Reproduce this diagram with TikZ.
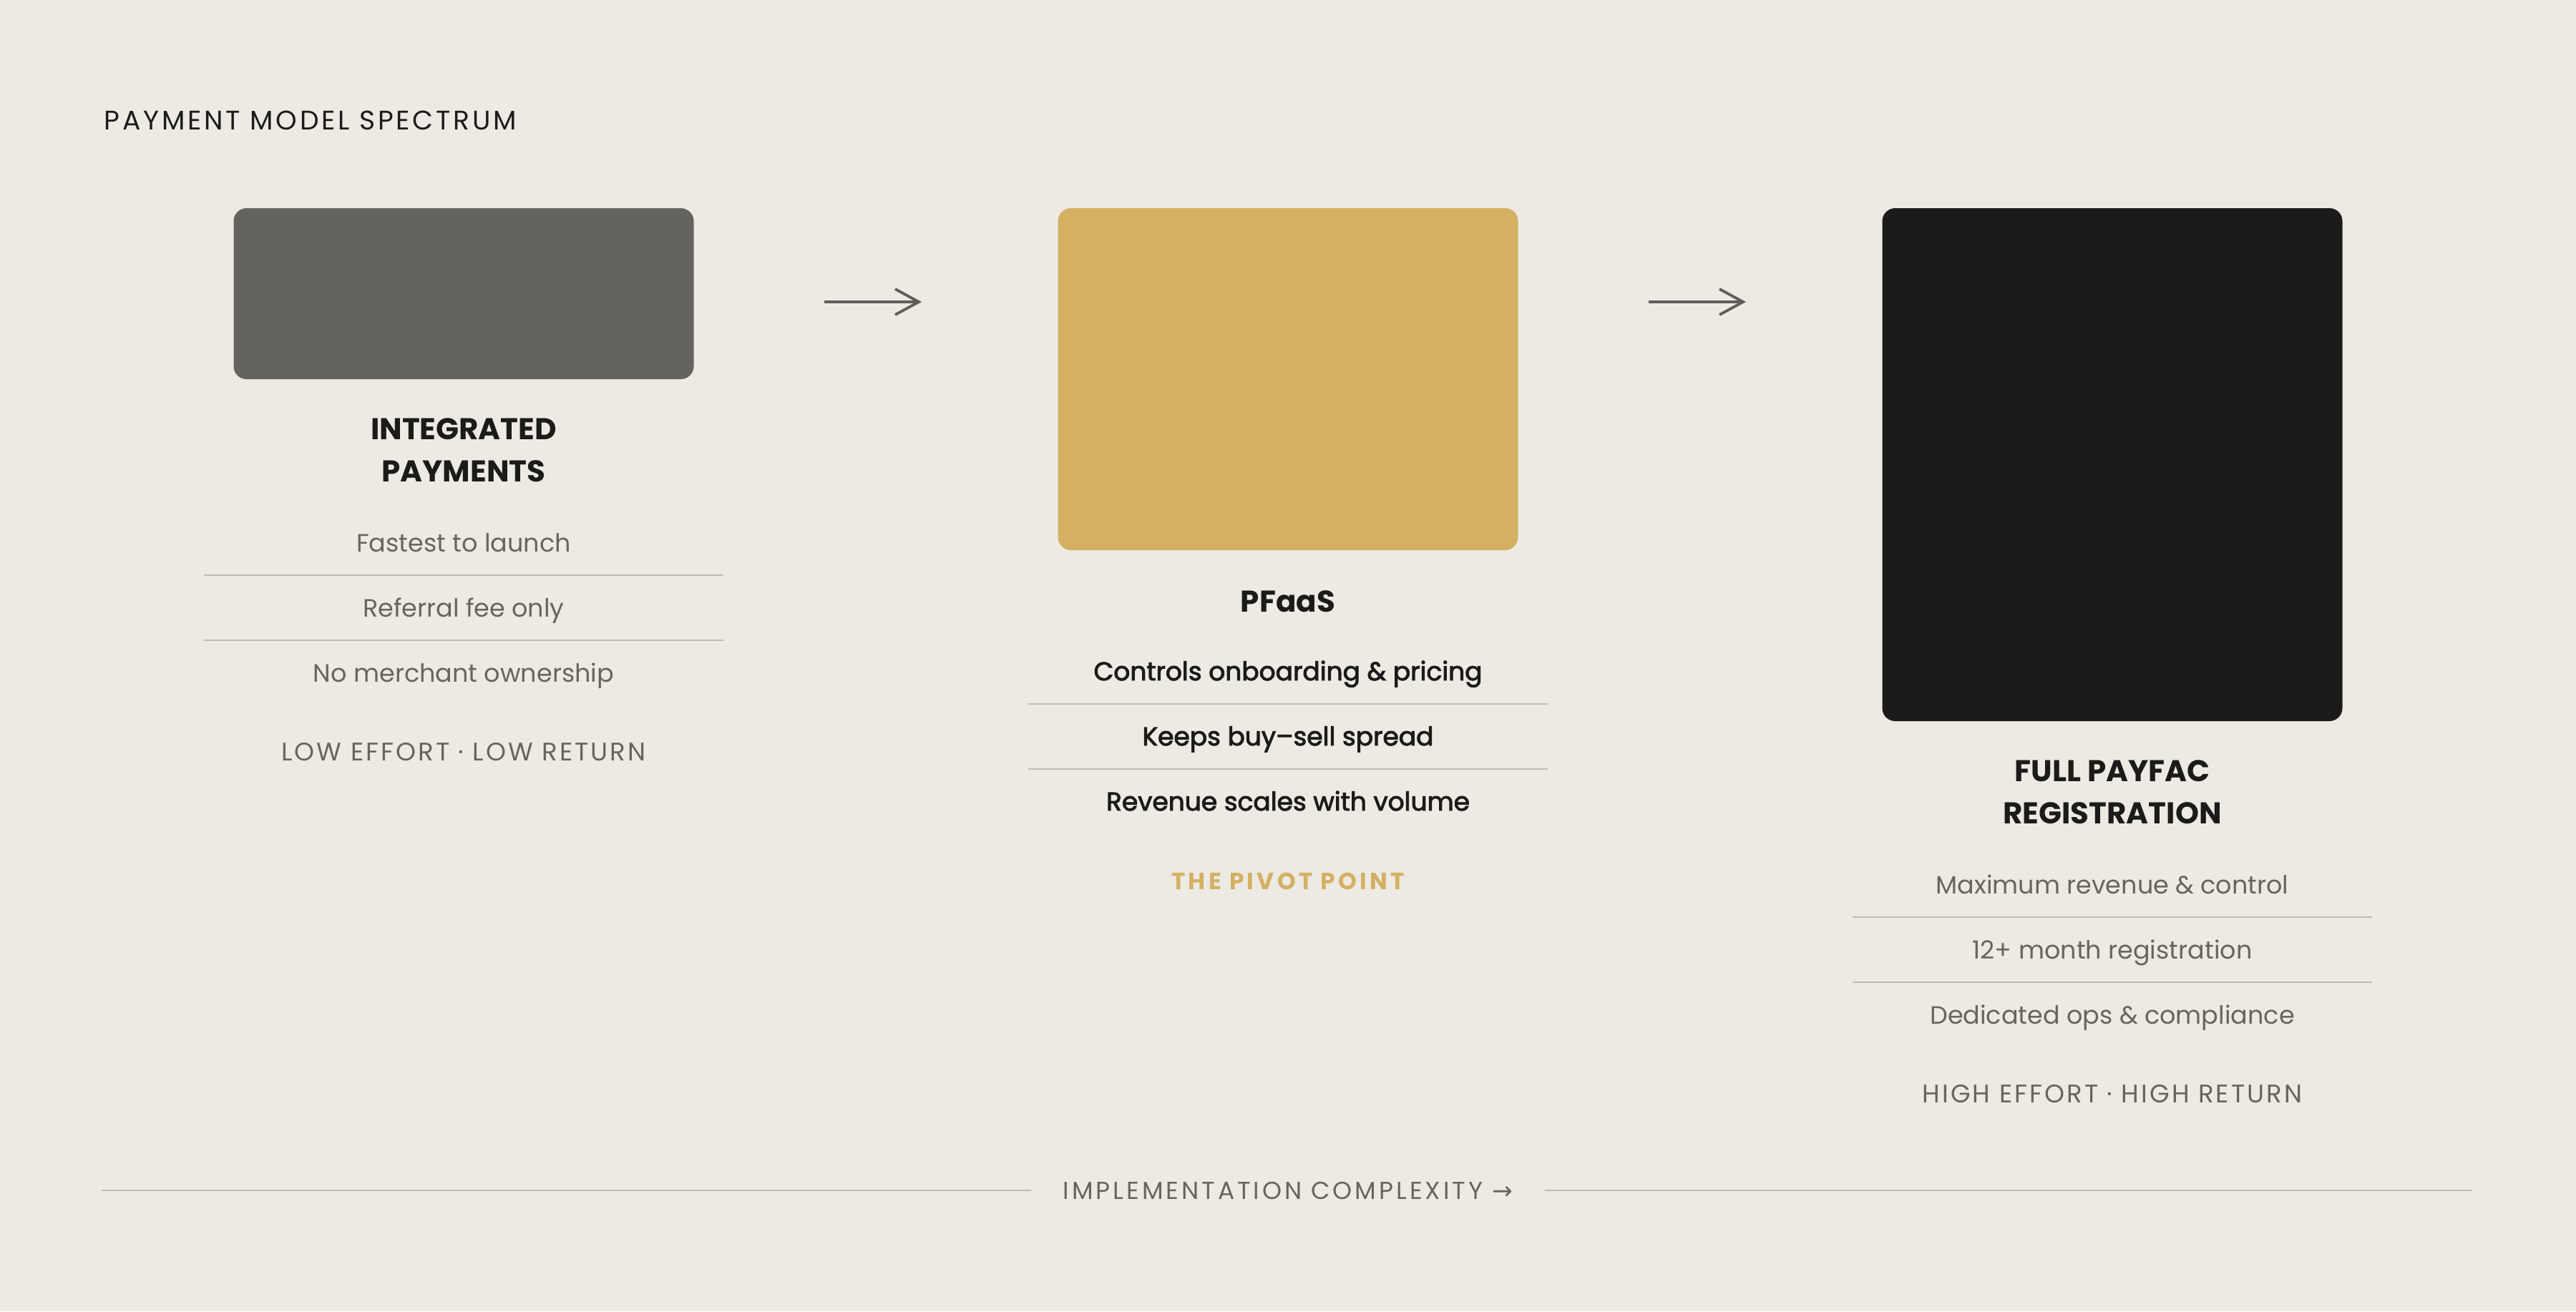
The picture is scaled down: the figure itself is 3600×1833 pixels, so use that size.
\documentclass[tikz,border=0pt]{standalone}
\usepackage{fontspec}
\setmainfont{Poppins}
\newfontfamily\spacedfont[LetterSpace=10]{Poppins}
\newfontfamily\axisfont[LetterSpace=11.5]{Poppins}
\newfontfamily\tagfont[LetterSpace=8.5]{Poppins}
\newfontfamily\pivotfont[LetterSpace=13]{Poppins}
\newfontfamily\midfont[FakeBold=2.6]{Poppins}
\newfontfamily\symfont{DejaVu Sans}
\usepackage{tikz}
\usetikzlibrary{arrows.meta}
\definecolor{paper}{HTML}{EDEAE4}
\definecolor{slate}{HTML}{64635E}
\definecolor{gold}{HTML}{D4B062}
\definecolor{ink}{HTML}{1B1B19}
\definecolor{mute}{HTML}{66655F}
\definecolor{hair}{HTML}{BDBBB6}
\definecolor{pointer}{HTML}{5F5E5A}
\tikzset{
  tile/.style={rectangle, rounded corners=4.5pt, inner sep=0pt, minimum width=160.75pt},
  heading/.style={font=\fontsize{10.5}{14.75}\selectfont\bfseries, text=ink, align=center, inner sep=0pt},
  item/.style={font=\fontsize{8.75}{11}\selectfont, text=mute, anchor=base, inner sep=0pt},
  keyitem/.style={font=\fontsize{9}{11}\midfont, text=ink, anchor=base, inner sep=0pt},
  tag/.style={font=\fontsize{8.9}{11}\tagfont, text=mute, anchor=base, inner sep=0pt},
  rule/.style={draw=hair, line width=0.55pt},
  flow/.style={draw=pointer, line width=0.95pt, -{Straight Barb[length=8.25pt, width=9pt, line width=0.95pt]}}
}

\begin{document}
\begin{tikzpicture}[x=0.25pt, y=-0.25pt]
    \useasboundingbox[fill=paper] (0,0) rectangle (3600,1833);
    % Heading
    \node[font=\fontsize{9.4}{11}\spacedfont, text=ink, anchor=base west, inner sep=0pt] (title) at (145,181) {PAYMENT MODEL SPECTRUM};

    % Tiles
    \node[tile, fill=slate, minimum height=59.75pt] (intg) at (648,410.5) {};
    \node[tile, fill=gold, minimum height=119.5pt] (pfaas) at (1800,530) {};
    \node[tile, fill=ink, minimum height=179.25pt] (payfac) at (2952,649.5) {};

    % Arrows
    \coordinate (a1s) at (1152,422);
    \coordinate (a1e) at (1288,422);
    \coordinate (a2s) at (2304,422);
    \coordinate (a2e) at (2440,422);
    \draw[flow] (a1s) -- (a1e);
    \draw[flow] (a2s) -- (a2e);

    % Names
    \node[heading] (intg-name) at (648,629.5) {INTEGRATED\\PAYMENTS};
    \node[heading] (pfaas-name) at (1800,841) {PFaaS};
    \node[heading] (payfac-name) at (2952,1107.5) {FULL PAYFAC\\REGISTRATION};

    % Rules between items
    \foreach \cx/\yb in {648/771, 1800/951, 2952/1249}{
      \draw[rule] (\cx-363,\yb+33) -- (\cx+363,\yb+33);
      \draw[rule] (\cx-363,\yb+124) -- (\cx+363,\yb+124);
    }

    % Items
    \node[item] (intg-1) at (648,771) {Fastest to launch};
    \node[item] (intg-2) at (648,862) {Referral fee only};
    \node[item] (intg-3) at (648,953) {No merchant ownership};
    \node[keyitem] (pfaas-1) at (1800,951) {Controls onboarding \& pricing};
    \node[keyitem] (pfaas-2) at (1800,1042) {Keeps buy–sell spread};
    \node[keyitem] (pfaas-3) at (1800,1133) {Revenue scales with volume};
    \node[item] (payfac-1) at (2952,1249) {Maximum revenue \& control};
    \node[item] (payfac-2) at (2952,1340) {12+ month registration};
    \node[item] (payfac-3) at (2952,1431) {Dedicated ops \& compliance};

    % Tags
    \node[tag] (intg-tag) at (648,1063) {LOW EFFORT · LOW RETURN};
    \node[tag, text=gold, font=\fontsize{8.2}{11}\pivotfont\bfseries] (pfaas-tag) at (1800,1243) {THE PIVOT POINT};
    \node[tag] (payfac-tag) at (2952,1541) {HIGH EFFORT · HIGH RETURN};

    % Axis
    \node[font=\fontsize{8.6}{11}\axisfont, text=mute, inner xsep=11pt, inner ysep=0pt] (axis) at (1800,1664) {IMPLEMENTATION COMPLEXITY {\symfont →}};
    \coordinate (axis-l) at (142,1664);
    \coordinate (axis-r) at (3455,1664);
    \draw[rule] (axis-l) -- (axis.west);
    \draw[rule] (axis.east) -- (axis-r);
\end{tikzpicture}
\end{document}
